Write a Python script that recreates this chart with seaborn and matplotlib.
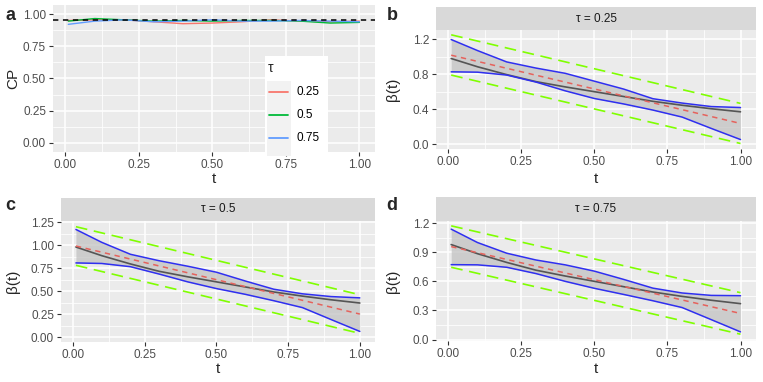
import numpy as np
import pandas as pd
import matplotlib
matplotlib.use("Agg")
import matplotlib.pyplot as plt
import seaborn as sns
from matplotlib.patches import Rectangle

# ---- data ----
t_grid = [0.01, 0.1, 0.2, 0.3, 0.4, 0.5, 0.6, 0.7, 0.8, 0.9, 1.0]
t_ends = [0.01, 1.0]

taus = ["0.25", "0.5", "0.75"]
cp_025 = [0.950, 0.955, 0.955, 0.940, 0.925, 0.930, 0.940, 0.955, 0.945, 0.940, 0.945]
cp_050 = [0.945, 0.965, 0.955, 0.945, 0.950, 0.945, 0.950, 0.950, 0.945, 0.930, 0.935]
cp_075 = [0.920, 0.945, 0.955, 0.940, 0.945, 0.955, 0.945, 0.945, 0.950, 0.945, 0.940]
nominal = 0.95

beta_true = [0.979, 0.885, 0.795, 0.715, 0.655, 0.600, 0.545, 0.490, 0.445, 0.405, 0.370]

upper_025 = [1.196, 1.07, 0.94, 0.87, 0.81, 0.72, 0.63, 0.52, 0.47, 0.43, 0.419]
lower_025 = [0.827, 0.823, 0.79, 0.71, 0.61, 0.522, 0.46, 0.39, 0.31, 0.18, 0.053]
est_025 = [1.017, 0.237]
scb_hi_025 = [1.25, 0.466]
scb_lo_025 = [0.79, 0.008]

upper_050 = [1.17, 1.03, 0.90, 0.83, 0.77, 0.705, 0.61, 0.52, 0.47, 0.44, 0.426]
lower_050 = [0.806, 0.80, 0.765, 0.685, 0.600, 0.527, 0.465, 0.395, 0.32, 0.19, 0.061]
est_050 = [0.99, 0.25]
scb_hi_050 = [1.20, 0.46]
scb_lo_050 = [0.78, 0.04]

upper_075 = [1.138, 1.00, 0.89, 0.82, 0.77, 0.705, 0.62, 0.53, 0.48, 0.455, 0.452]
lower_075 = [0.772, 0.77, 0.745, 0.68, 0.60, 0.528, 0.465, 0.40, 0.33, 0.205, 0.079]
est_075 = [0.958, 0.269]
scb_hi_075 = [1.172, 0.483]
scb_lo_075 = [0.745, 0.055]

hue_cols = ["#F8766D", "#00BA38", "#619CFF"]

sns.set_theme(style="darkgrid")
plt.rcParams["font.family"] = ["Liberation Sans", "DejaVu Sans"]

W, H = 763, 382
fig = plt.figure(figsize=(W / 100, H / 100), dpi=100)
fig.patch.set_facecolor("white")


def rect(x0, y0, x1, y1):
    return [x0 / W, 1 - y1 / H, (x1 - x0) / W, (y1 - y0) / H]


def style_ax(ax, xlim, ylim, yticks, yfmt):
    ax.set_facecolor("#EBEBEB")
    ax.set_xlim(*xlim)
    ax.set_ylim(*ylim)
    xt = [0, 0.25, 0.5, 0.75, 1.0]
    ax.set_xticks(xt)
    ax.set_xticklabels([f"{v:.2f}" for v in xt])
    ax.set_yticks(yticks)
    ax.set_yticklabels([yfmt.format(v) for v in yticks])
    step = yticks[1] - yticks[0]
    ax.set_xticks([0.125, 0.375, 0.625, 0.875], minor=True)
    ax.set_yticks([v + step / 2 for v in yticks[:-1]], minor=True)
    ax.grid(True, which="major", color="white", lw=1.1)
    ax.grid(True, which="minor", color="white", lw=0.55)
    ax.tick_params(which="major", length=3, width=0.8, color="#333333",
                   labelsize=8.5, labelcolor="#4D4D4D", pad=2, bottom=True, left=True)
    ax.tick_params(which="minor", length=0)
    for s in ax.spines.values():
        s.set_visible(False)
    ax.set_xlabel("t", fontsize=11)


def strip(x0, y0, x1, y1, text):
    sa = fig.add_axes(rect(x0, y0, x1, y1))
    sa.set_facecolor("#D9D9D9")
    sa.set_xticks([])
    sa.set_yticks([])
    for s in sa.spines.values():
        s.set_visible(False)
    sa.text(0.5, 0.5, text, ha="center", va="center", fontsize=8.5, color="#1A1A1A",
            transform=sa.transAxes)


def place_labels(ax, box, xlab_base, ylab_x):
    x0, y0, x1, y1 = box
    ax.xaxis.set_label_coords(0.5, -(xlab_base - y1) / (y1 - y0))
    ax.yaxis.set_label_coords(-(x0 - ylab_x) / (x1 - x0), 0.5)
    ax.xaxis.label.set_va("baseline")
    ax.yaxis.label.set_va("center")


# ---- panel a ----
box_a = (53, 5, 375, 152)
ax_a = fig.add_axes(rect(*box_a))
cp_df = pd.DataFrame({
    "t": t_grid * 3,
    "CP": cp_025 + cp_050 + cp_075,
    "tau": [taus[0]] * len(t_grid) + [taus[1]] * len(t_grid) + [taus[2]] * len(t_grid),
})
sns.lineplot(data=cp_df, x="t", y="CP", hue="tau", palette=hue_cols, lw=1.0,
             ax=ax_a, legend=False)
ax_a.axhline(nominal, color="black", lw=1.1, ls=(0, (3.5, 3)))
style_ax(ax_a, (-0.042, 1.053), (-0.07, 1.07), [0, 0.25, 0.5, 0.75, 1.0], "{:.2f}")
ax_a.set_ylabel("CP", fontsize=11)
place_labels(ax_a, box_a, 183, 13)

# legend box
lax = fig.add_axes(rect(265, 56, 328, 156), zorder=5)
lax.set_xlim(0, 1)
lax.set_ylim(0, 1)
lax.set_facecolor("white")
lax.set_xticks([])
lax.set_yticks([])
for s in lax.spines.values():
    s.set_visible(False)
lax.add_patch(Rectangle((0.03, 0.0), 0.38, 0.75, color="#F2F2F2", lw=0))
lax.text(0.05, 0.88, "τ", fontsize=10, va="center", ha="left")
key_y = [0.64, 0.41, 0.18]
for yk, lab, c in zip(key_y, taus, hue_cols):
    lax.plot([0.07, 0.37], [yk, yk], color=c, lw=1.3)
    lax.text(0.5, yk, lab, fontsize=8.5, va="center", ha="left", color="black")


def beta_panel(box, strip_box, tau_text, upper, lower, est, hi, lo, ylim, yticks, yfmt, xlab_base):
    ax = fig.add_axes(rect(*box))
    ax.fill_between(t_grid, lower, upper, color="#BFBFBF", alpha=0.7, lw=0)
    band = pd.DataFrame({"t": t_grid, "upper": upper, "lower": lower, "true": beta_true})
    ends = pd.DataFrame({"t": t_ends, "est": est, "hi": hi, "lo": lo})
    sns.lineplot(data=ends, x="t", y="hi", color="#7FFF00", lw=1.2, ax=ax,
                 linestyle=(0, (7, 4)))
    sns.lineplot(data=ends, x="t", y="lo", color="#7FFF00", lw=1.2, ax=ax,
                 linestyle=(0, (7, 4)))
    sns.lineplot(data=band, x="t", y="true", color="#555555", lw=1.2, ax=ax)
    sns.lineplot(data=ends, x="t", y="est", color="#E5625C", lw=1.1, ax=ax,
                 linestyle=(0, (3.5, 3)))
    sns.lineplot(data=band, x="t", y="upper", color="#2F2FF0", lw=1.1, ax=ax)
    sns.lineplot(data=band, x="t", y="lower", color="#2F2FF0", lw=1.1, ax=ax)
    style_ax(ax, (-0.042, 1.053), ylim, yticks, yfmt)
    ax.set_ylabel("β(t)", fontsize=11)
    ylab_x = box[0] - 43 if box[0] > 400 else box[0] - 48
    place_labels(ax, box, xlab_base, ylab_x)
    strip(box[0], strip_box[0], box[2], strip_box[1], tau_text)
    return ax


beta_panel((436, 30, 756, 149), (7, 30), "τ = 0.25", upper_025, lower_025, est_025,
           scb_hi_025, scb_lo_025, (-0.055, 1.305), [0, 0.4, 0.8, 1.2], "{:.1f}", 183)
beta_panel((61, 221, 375, 342), (198, 221), "τ = 0.5", upper_050, lower_050, est_050,
           scb_hi_050, scb_lo_050, (-0.054, 1.262), [0, 0.25, 0.5, 0.75, 1.0, 1.25], "{:.2f}", 373)
beta_panel((436, 221, 756, 341), (197, 221), "τ = 0.75", upper_075, lower_075, est_075,
           scb_hi_075, scb_lo_075, (-0.015, 1.222), [0, 0.3, 0.6, 0.9, 1.2], "{:.1f}", 373)

for lab, x, y in [("a", 10, 15), ("b", 392, 15), ("c", 10, 205), ("d", 392, 205)]:
    fig.text(x / W, 1 - y / H, lab, fontsize=13, fontweight="bold", ha="center", va="center")

fig.savefig("out.png", dpi=100, facecolor="white")
